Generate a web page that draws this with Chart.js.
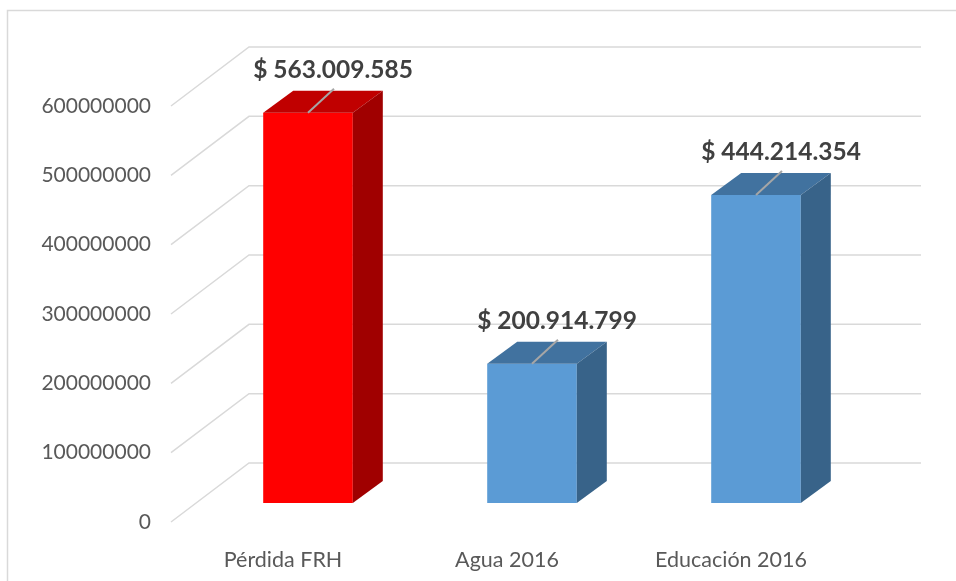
<!DOCTYPE html>
<html>
<head>
<meta charset="utf-8">
<script src="https://cdn.jsdelivr.net/npm/chart.js@4.4.0/dist/chart.umd.min.js"></script>
<style>
  html, body { margin: 0; padding: 0; background: #fff; }
  #wrap { width: 956px; height: 581px; }
</style>
</head>
<body>
<div id="wrap"><canvas id="myChart" width="956" height="581"></canvas></div>
<script>
var categories = ['Pérdida FRH', 'Agua 2016', 'Educación 2016'];
var values = [563009585, 200914799, 444214354];
var valueLabels = ['$ 563.009.585', '$ 200.914.799', '$ 444.214.354'];
var yTicks = [0, 100000000, 200000000, 300000000, 400000000, 500000000, 600000000];

var frontColors = ['#ff0000', '#5b9bd5', '#5b9bd5'];
var topColors = ['#c00000', '#41729f', '#41729f'];
var sideColors = ['#a00000', '#386389', '#386389'];

// perspective offsets (pixels, relative to the bar front plane)
var DEPTH_X = 30, DEPTH_Y = -22;
var WALL_X = 53, WALL_Y = -40;
var FLOOR_X = -25, FLOOR_Y = 19;

function poly(ctx, pts, color) {
    ctx.beginPath();
    ctx.moveTo(pts[0][0], pts[0][1]);
    for (var i = 1; i < pts.length; i++) ctx.lineTo(pts[i][0], pts[i][1]);
    ctx.closePath();
    ctx.fillStyle = color;
    ctx.fill();
}

var threeD = {
    id: 'threeD',
    beforeDraw: function (chart) {
        var ctx = chart.ctx;
        ctx.save();
        ctx.strokeStyle = '#d9d9d9';
        ctx.lineWidth = 1.5;
        ctx.strokeRect(7.5, 10.5, 980, 600);
        ctx.restore();
    },
    beforeDatasetsDraw: function (chart) {
        var ctx = chart.ctx, area = chart.chartArea, y = chart.scales.y;
        ctx.save();
        ctx.strokeStyle = '#d9d9d9';
        ctx.lineWidth = 1.5;
        yTicks.forEach(function (v) {
            var py = y.getPixelForValue(v);
            ctx.beginPath();
            ctx.moveTo(area.left + FLOOR_X, py + FLOOR_Y);
            ctx.lineTo(area.left + WALL_X, py + WALL_Y);
            ctx.lineTo(area.right + WALL_X, py + WALL_Y);
            ctx.stroke();
        });
        ctx.restore();
    },
    afterDatasetsDraw: function (chart) {
        var ctx = chart.ctx;
        var meta = chart.getDatasetMeta(0);
        ctx.save();
        meta.data.forEach(function (bar, i) {
            var l = bar.x - bar.width / 2, r = bar.x + bar.width / 2;
            var t = bar.y, b = bar.base;
            poly(ctx, [[l, t], [l + DEPTH_X, t + DEPTH_Y], [r + DEPTH_X, t + DEPTH_Y], [r, t]], topColors[i]);
            poly(ctx, [[r, t], [r + DEPTH_X, t + DEPTH_Y], [r + DEPTH_X, b + DEPTH_Y], [r, b]], sideColors[i]);

            ctx.strokeStyle = '#a6a6a6';
            ctx.lineWidth = 2;
            ctx.beginPath();
            ctx.moveTo(bar.x, t);
            ctx.lineTo(bar.x + 26, t - 24);
            ctx.stroke();

            ctx.fillStyle = '#404040';
            ctx.font = 'bold 24.5px Lato';
            ctx.textAlign = 'center';
            ctx.textBaseline = 'middle';
            ctx.fillText(valueLabels[i], bar.x + 25, t - 43);
        });
        ctx.restore();
    }
};

var ctx = document.getElementById('myChart').getContext('2d');
var myChart = new Chart(ctx, {
    type: 'bar',
    data: {
        labels: categories,
        datasets: [{
            label: 'Monto',
            data: values,
            backgroundColor: frontColors,
            borderWidth: 0,
            barPercentage: 0.8,
            categoryPercentage: 0.5
        }]
    },
    options: {
        responsive: false,
        animation: false,
        layout: {
            padding: { top: 87, right: 88, bottom: 0, left: 0 }
        },
        plugins: {
            legend: { display: false },
            tooltip: { enabled: false }
        },
        scales: {
            x: {
                grid: { display: false },
                border: { display: false },
                ticks: {
                    color: '#595959',
                    font: { family: 'Lato', size: 21.5 },
                    padding: 36,
                    labelOffset: FLOOR_X,
                    maxRotation: 0
                },
                afterFit: function (scale) { scale.height = 78; }
            },
            y: {
                min: 0,
                max: 600000000,
                grid: { display: false },
                border: { display: false },
                afterBuildTicks: function (scale) {
                    scale.ticks = yTicks.map(function (v) { return { value: v }; });
                },
                ticks: {
                    color: '#595959',
                    font: { family: 'Lato', size: 21 },
                    padding: 37,
                    labelOffset: FLOOR_Y,
                    callback: function (v) { return String(v); }
                },
                afterFit: function (scale) { scale.width = 196; }
            }
        }
    },
    plugins: [threeD]
});
</script>
</body>
</html>
